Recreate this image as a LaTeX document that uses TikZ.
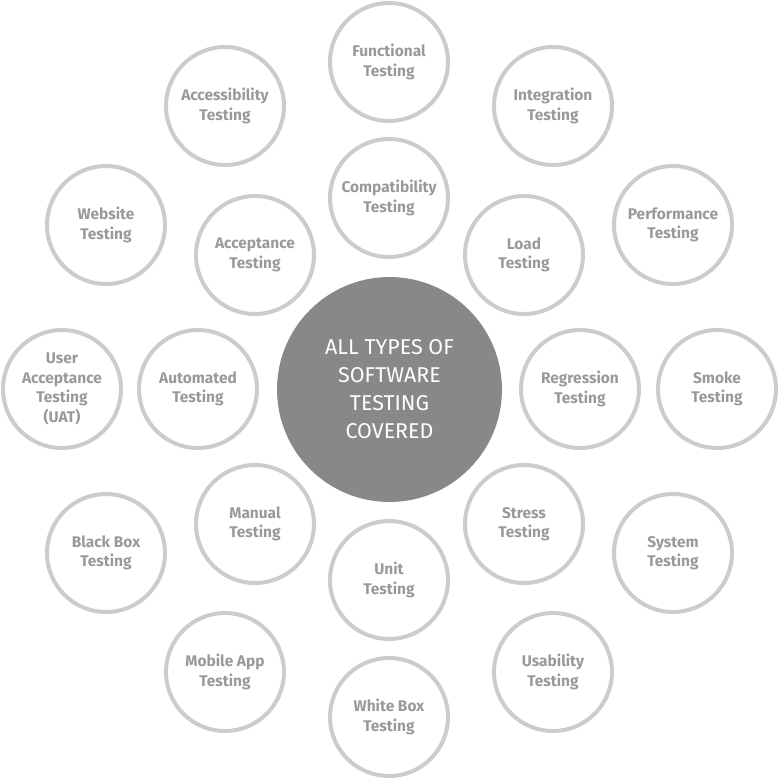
\documentclass[tikz,border=0pt]{standalone}
\usepackage{fontspec}
\setmainfont{Fira Sans}
\definecolor{ringgray}{HTML}{CCCCCC}
\definecolor{textgray}{HTML}{999999}
\definecolor{hubgray}{HTML}{888888}
\tikzset{
	testcircle/.style={circle,draw=ringgray,line width=4pt*0.57,minimum size=2.36cm,inner sep=0pt,
		text=textgray,align=center,font=\fontsize{8.8}{11.1}\selectfont\bfseries},
	hubcircle/.style={circle,fill=hubgray,minimum size=4.5cm,inner sep=0pt,
		text=white,align=center,font=\fontsize{12.2}{15.9}\selectfont}
}
\begin{document}
\begin{tikzpicture}[x=0.02cm,y=-0.02cm]
		\useasboundingbox (0,0) rectangle (779,779);
		%Centro
		\node[hubcircle](hub)at (389.5,389.5) {ALL TYPES OF\\SOFTWARE\\TESTING\\COVERED};
		%Anillo interior
		\node[testcircle](compat)at (389,198) {Compatibility\\Testing};
		\node[testcircle](load)at (524,255) {Load\\Testing};
		\node[testcircle](regr)at (580,389) {Regression\\Testing};
		\node[testcircle](stress)at (524,524) {Stress\\Testing};
		\node[testcircle](unit)at (389,580) {Unit\\Testing};
		\node[testcircle](manual)at (255,524) {Manual\\Testing};
		\node[testcircle](auto)at (198,389) {Automated\\Testing};
		\node[testcircle](accept)at (255,255) {Acceptance\\Testing};
		%Anillo exterior
		\node[testcircle](func)at (389,62) {Functional\\Testing};
		\node[testcircle](integ)at (553,106) {Integration\\Testing};
		\node[testcircle](perf)at (673,225) {Performance\\Testing};
		\node[testcircle](smoke)at (717,389) {Smoke\\Testing};
		\node[testcircle](system)at (673,553) {System\\Testing};
		\node[testcircle](usab)at (553,672) {Usability\\Testing};
		\node[testcircle](white)at (389,717) {White Box\\Testing};
		\node[testcircle](mobile)at (225,672) {Mobile App\\Testing};
		\node[testcircle](black)at (106,553) {Black Box\\Testing};
		\node[testcircle](uat)at (62,389) {User\\Acceptance\\Testing\\(UAT)};
		\node[testcircle](web)at (106,225) {Website\\Testing};
		\node[testcircle](access)at (225,106) {Accessibility\\Testing};
	\end{tikzpicture}
\end{document}
